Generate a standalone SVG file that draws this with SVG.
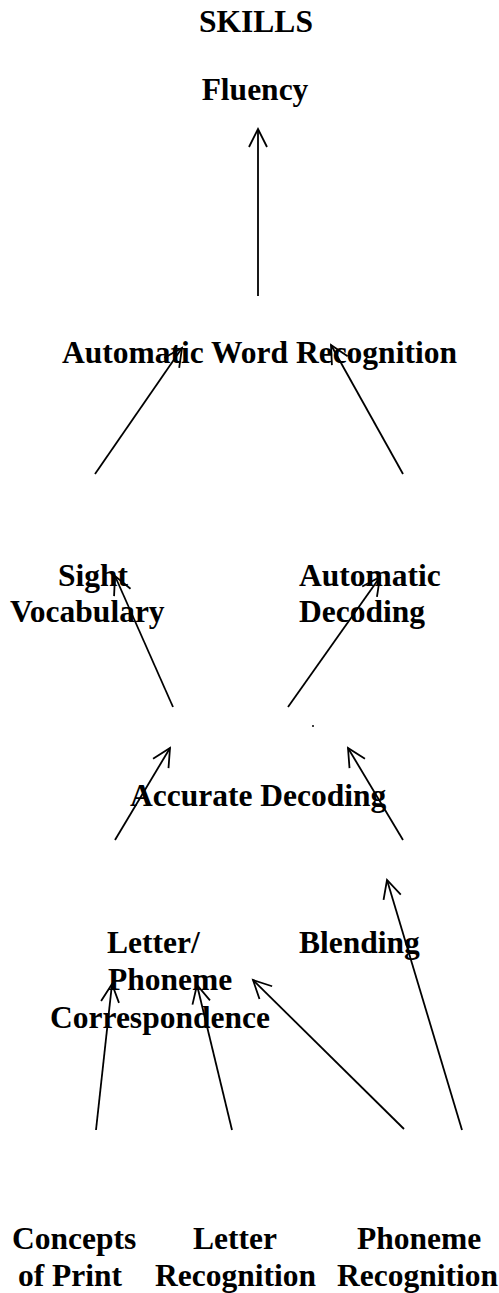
<svg xmlns="http://www.w3.org/2000/svg" width="499" height="1293" viewBox="0 0 499 1293">
<style>
text { font-family: "Liberation Serif", "Times New Roman", serif; font-weight: bold; font-size: 31.5px; fill: #000; }
.c { text-anchor: middle; }
.ln { stroke: #000; stroke-width: 1.8; fill: none; marker-end: url(#arr); }
</style>
<defs>
<marker id="arr" markerUnits="userSpaceOnUse" markerWidth="24" markerHeight="24" viewBox="-20 -12 24 24" refX="0" refY="0" orient="auto">
<path d="M -18 -9 L 0 0 L -18 9" fill="none" stroke="#000" stroke-width="1.8"/>
</marker>
</defs>
<rect width="499" height="1293" fill="#fff"/>
<g id="title"><text class="c" x="256" y="32">SKILLS</text></g>
<g id="fluency"><text class="c" x="255" y="100">Fluency</text></g>
<g id="awr"><text x="62" y="363">Automatic Word Recognition</text></g>
<g id="sight"><text x="58" y="586">Sight</text><text x="10" y="622">Vocabulary</text></g>
<g id="autodec"><text x="299" y="586">Automatic</text><text x="299" y="622">Decoding</text></g>
<g id="accdec"><text x="130" y="806">Accurate Decoding</text></g>
<g id="lpc"><text x="107" y="953">Letter/</text><text x="108" y="990">Phoneme</text><text x="50" y="1028">Correspondence</text></g>
<g id="blending"><text x="299" y="953">Blending</text></g>
<g id="concepts"><text x="12" y="1249">Concepts</text><text x="18" y="1286">of Print</text></g>
<g id="letterrec"><text x="193" y="1249">Letter</text><text x="155" y="1286">Recognition</text></g>
<g id="phonrec"><text x="357" y="1249">Phoneme</text><text x="337" y="1286">Recognition</text></g>
<g id="connectors">
<line class="ln" x1="258" y1="296" x2="258" y2="129"/>
<line class="ln" x1="95" y1="474" x2="182" y2="348"/>
<line class="ln" x1="403" y1="474" x2="331" y2="345"/>
<line class="ln" x1="173" y1="707" x2="115" y2="576"/>
<line class="ln" x1="288" y1="707" x2="380" y2="577"/>
<line class="ln" x1="115" y1="840" x2="170" y2="748"/>
<line class="ln" x1="403" y1="840" x2="348" y2="748"/>
<line class="ln" x1="462" y1="1130" x2="387" y2="880"/>
<line class="ln" x1="404" y1="1129" x2="253" y2="980"/>
<line class="ln" x1="96" y1="1130" x2="112" y2="984"/>
<line class="ln" x1="232" y1="1130" x2="197" y2="985"/>
<circle cx="313" cy="726" r="1" fill="#000"/>
</g>
</svg>
